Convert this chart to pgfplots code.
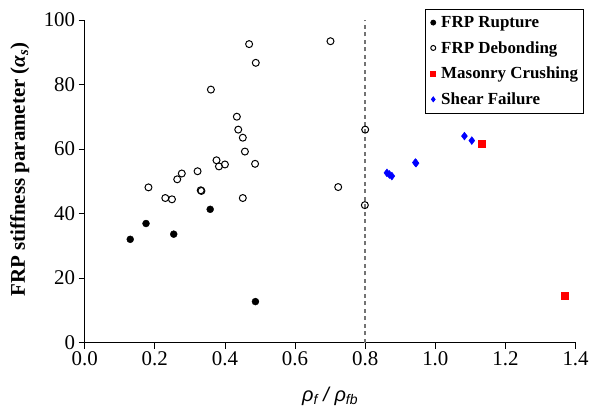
\documentclass[border=0pt]{standalone}
\usepackage{pgfplots}
\pgfplotsset{compat=1.18}
\usepackage{fontspec}
\setmainfont{Liberation Serif}
\newfontfamily\lsans{Liberation Sans}
\begin{document}
\begin{tikzpicture}
\path (-85pt,-65pt) rectangle (507pt,344pt);
\begin{axis}[
  scale only axis, width=493pt, height=324pt,
  xmin=0, xmax=1.4, ymin=0, ymax=100,
  axis x line*=bottom, axis y line*=left,
  axis line style={line width=1.5pt, black},
  xtick={0,0.2,0.4,0.6,0.8,1.0,1.2,1.4}, ytick={0,20,40,60,80,100},
  tick align=outside, major tick length=6pt,
  tick style={line width=0.8pt, black},
  xticklabel style={/pgf/number format/fixed, /pgf/number format/fixed zerofill, /pgf/number format/precision=1},
  /pgf/number format/assume math mode=true,
  tick label style={font=\fontsize{21}{23}\selectfont},
  clip=false,
  xlabel={\lsans\itshape ρ\textsubscript{f} / ρ\textsubscript{fb}},
  xlabel style={font=\fontsize{20}{22}\selectfont, at={(axis description cs:0.5,-0.167)}, anchor=center},
  ylabel={FRP stiffness parameter (\textit{α}\textsubscript{\textit{s}})},
  ylabel style={font=\fontsize{21}{24}\selectfont\bfseries, at={(axis description cs:-0.132,0.537)}, anchor=center},
  legend style={at={(axis description cs:1.016,1.034)}, anchor=north east, draw=black, line width=0.8pt,
    font=\fontsize{17}{20}\selectfont\bfseries, row sep=8.5pt, inner xsep=3pt, inner ysep=5pt},
  legend cell align=left,
  legend image code/.code={\path[draw=none] (0pt,0pt) (11pt,0pt); \draw[mark size=2.5pt] plot coordinates {(5pt,0pt)};},
]
\addplot[forget plot, black!55, dashed, line width=1.6pt, dash pattern=on 4pt off 3.5pt] coordinates {(0.8,0) (0.8,100)};
\addplot[only marks, mark=*, black, mark size=3.5pt] coordinates {
(0.130,32.0) (0.175,36.9) (0.254,33.6) (0.358,41.3) (0.487,12.7)};
\addlegendentry{FRP Rupture}
\addplot[only marks, mark=o, black, mark size=3.5pt, line width=1pt] coordinates {
(0.469,92.5) (0.701,93.4) (0.488,86.7) (0.360,78.4) (0.434,70.0) (0.438,66.0) (0.451,63.5) (0.457,59.2)
(0.376,56.5) (0.383,54.6) (0.400,55.2) (0.486,55.4) (0.322,53.1) (0.277,52.4) (0.264,50.6) (0.182,48.1)
(0.723,48.2) (0.331,47.2) (0.333,47.0) (0.230,44.8) (0.249,44.4) (0.451,44.8) (0.800,66.0) (0.799,42.6)};
\addlegendentry{FRP Debonding}
\addplot[only marks, mark=square*, red, mark size=3.5pt] coordinates {
(1.132,61.6) (1.370,14.4)};
\addlegendentry{Masonry Crushing}
\addplot[only marks, mark=diamond*, blue, mark size=4pt] coordinates {
(1.083,64.0) (1.104,62.6) (0.945,55.6) (0.943,55.8) (0.862,52.6) (0.869,52.1) (0.876,51.6)};
\addlegendentry{Shear Failure}
\end{axis}
\end{tikzpicture}
\end{document}
